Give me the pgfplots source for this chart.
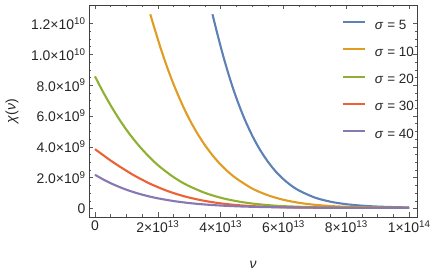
\documentclass[border=0pt]{standalone}
\usepackage{fontspec}
\setmainfont{Liberation Sans}
\usepackage{pgfplots}
\pgfplotsset{compat=1.18}
\definecolor{cA}{rgb}{0.368417,0.506779,0.709798}
\definecolor{cB}{rgb}{0.880722,0.611041,0.142051}
\definecolor{cC}{rgb}{0.560181,0.691569,0.194885}
\definecolor{cD}{rgb}{0.922526,0.385626,0.209179}
\definecolor{cE}{rgb}{0.528488,0.470624,0.701351}
\newcommand\sci[2]{#1×10\textsuperscript{#2}}
\begin{document}
\begin{tikzpicture}
\path[use as bounding box] (-89bp,-56bp) rectangle (347bp,217bp);
\begin{axis}[
  at={(0,0)}, anchor=south west,
  scale only axis, width=328bp, height=212bp,
  xmin=-1.9e12, xmax=1.025e14, ymin=-0.55e9, ymax=13.2e9,
  scaled ticks=false,
  xtick={0,2e13,4e13,6e13,8e13,1e14},
  xticklabels={0,\sci{2}{13},\sci{4}{13},\sci{6}{13},\sci{8}{13},\sci{1}{14}},
  ytick={0,2e9,4e9,6e9,8e9,10e9,12e9},
  yticklabels={0,\sci{2.0}{9},\sci{4.0}{9},\sci{6.0}{9},\sci{8.0}{9},\sci{1.0}{10},\sci{1.2}{10}},
  minor x tick num=3, minor y tick num=3,
  tick align=inside,
  major tick length=4.5bp, minor tick length=2.5bp,
  axis line style={black!75, line width=0.7bp},
  tick style={black!65, line width=0.5bp},
  ticklabel style={font=\fontsize{14}{15}\selectfont, text=black!85},
  xlabel={\textit{ν}}, ylabel={\textit{χ}(\textit{ν})},
  label style={font=\fontsize{14}{15}\selectfont, text=black!85},
  xlabel style={at={(axis description cs:0.5,-0.226)}, anchor=center},
  ylabel style={at={(axis description cs:-0.235,0.5)}, anchor=center},
  legend cell align=left,
  legend style={at={(axis description cs:0.771,0.933)}, anchor=north west,
    draw=none, fill=none, inner sep=0pt, outer sep=0pt,
    font=\fontsize{13.5}{15}\selectfont, text=black!85,
    nodes={inner sep=0pt, text height=10bp, text depth=3bp},
    row sep=14.2bp, column sep=9bp},
  legend image code/.code={\draw[#1] (0bp,3.5bp) -- (22bp,3.5bp);},
]
\addplot[cA, line width=2.1bp, smooth] coordinates {
(3.74e13,12.60e9) (3.9e13,11.29e9) (4.1e13,9.76e9) (4.3e13,8.39e9) (4.5e13,7.17e9)
(4.75e13,5.86e9) (5.0e13,4.75e9) (5.25e13,3.82e9) (5.5e13,3.05e9) (5.75e13,2.41e9)
(6.0e13,1.90e9) (6.24e13,1.50e9) (6.5e13,1.16e9) (7.0e13,0.709e9) (7.5e13,0.44e9)
(8.0e13,0.28e9) (8.5e13,0.184e9) (9.0e13,0.126e9) (9.5e13,0.092e9) (10.0e13,0.071e9)};
\addlegendentry{\textit{σ} = 5}
\addplot[cB, line width=2.1bp, smooth] coordinates {
(1.76e13,12.60e9) (1.9e13,11.65e9) (2.1e13,10.34e9) (2.3e13,9.15e9) (2.5e13,8.07e9)
(2.75e13,6.87e9) (3.0e13,5.81e9) (3.25e13,4.90e9) (3.5e13,4.11e9) (3.75e13,3.43e9)
(4.0e13,2.85e9) (4.25e13,2.36e9) (4.5e13,1.95e9) (5.0e13,1.30e9) (5.5e13,0.863e9)
(6.0e13,0.565e9) (6.5e13,0.368e9) (7.0e13,0.241e9) (7.5e13,0.161e9) (8.0e13,0.111e9)
(9.0e13,0.063e9) (10.0e13,0.046e9)};
\addlegendentry{\textit{σ} = 10}
\addplot[cC, line width=2.1bp, smooth] coordinates {
(0,8.57e9) (0.25e13,7.59e9) (0.5e13,6.69e9) (0.75e13,5.86e9) (1.0e13,5.11e9)
(1.25e13,4.44e9) (1.5e13,3.84e9) (1.75e13,3.30e9) (2.0e13,2.82e9) (2.25e13,2.41e9)
(2.5e13,2.04e9) (2.75e13,1.72e9) (3.0e13,1.45e9) (3.5e13,1.014e9) (4.0e13,0.70e9)
(4.5e13,0.478e9) (5.0e13,0.325e9) (5.5e13,0.222e9) (6.0e13,0.153e9) (7.0e13,0.082e9)
(8.0e13,0.054e9) (9.0e13,0.044e9) (10.0e13,0.041e9)};
\addlegendentry{\textit{σ} = 20}
\addplot[cD, line width=2.1bp, smooth] coordinates {
(0,3.85e9) (0.25e13,3.48e9) (0.5e13,3.11e9) (0.75e13,2.77e9) (1.0e13,2.45e9)
(1.25e13,2.14e9) (1.5e13,1.87e9) (1.75e13,1.61e9) (2.0e13,1.39e9) (2.25e13,1.18e9)
(2.5e13,1.004e9) (2.75e13,0.846e9) (3.0e13,0.709e9) (3.5e13,0.491e9) (4.0e13,0.335e9)
(4.5e13,0.227e9) (5.0e13,0.155e9) (5.5e13,0.109e9) (6.0e13,0.080e9) (7.0e13,0.052e9)
(8.0e13,0.043e9) (10.0e13,0.040e9)};
\addlegendentry{\textit{σ} = 30}
\addplot[cE, line width=2.1bp, smooth] coordinates {
(0,2.19e9) (0.25e13,1.90e9) (0.5e13,1.64e9) (0.75e13,1.42e9) (1.0e13,1.22e9)
(1.25e13,1.05e9) (1.5e13,0.901e9) (1.75e13,0.773e9) (2.0e13,0.662e9) (2.5e13,0.485e9)
(3.0e13,0.355e9) (3.5e13,0.261e9) (4.0e13,0.193e9) (4.5e13,0.145e9) (5.0e13,0.112e9)
(6.0e13,0.072e9) (7.0e13,0.054e9) (8.0e13,0.046e9) (10.0e13,0.041e9)};
\addlegendentry{\textit{σ} = 40}
\end{axis}
\end{tikzpicture}
\end{document}
